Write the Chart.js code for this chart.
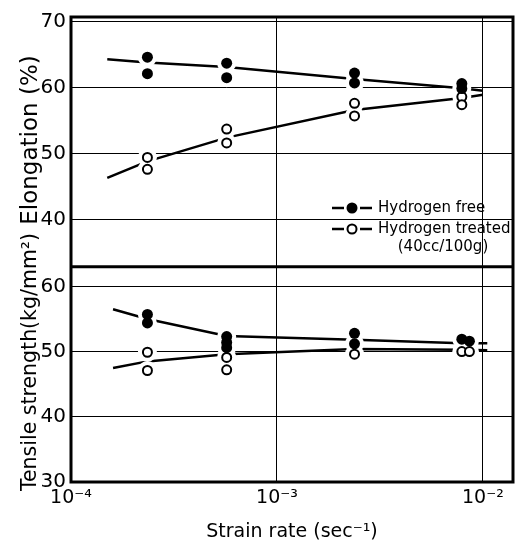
<!DOCTYPE html>
<html lang="en">

<head>
  <meta charset="UTF-8">
  <title>Strain rate</title>
  <script src="https://cdn.jsdelivr.net/npm/chart.js@4.4.1/dist/chart.umd.min.js"></script>
  <style>
    body { margin: 0; background: #fff; }
    #wrap { width: 524px; height: 547px; }
  </style>
</head>

<body>
  <div id="wrap"><canvas id="c"></canvas></div>
</body>

<script>
  // strain rates of the four test series (sec^-1)
  const rates = [2.35e-4, 5.7e-4, 2.38e-3, 7.9e-3];

  // elongation (%), two specimens per rate
  const elongFree = [[64.6, 62.1], [63.7, 61.5], [62.2, 60.7], [60.6, 59.85]];
  const elongTreated = [[49.4, 47.6], [53.7, 51.6], [57.6, 55.7], [58.6, 57.4]];

  // tensile strength (kg/mm2)
  const tensFree = [[55.7, 54.4], [52.3, 51.4, 50.6], [52.8, 51.2], [51.9, 51.6]];
  const tensTreated = [[49.9, 47.1], [49.1, 47.2], [49.6], [50.0, 50.0]];
  // last column of the tensile panel: the two specimens sit slightly apart
  const lastRates = [7.9e-3, 8.6e-3];

  // hand-drawn trend lines
  const fitX = [1.5e-4, 2.35e-4, 5.7e-4, 2.38e-3, 7.9e-3, 1.0e-2];
  const elongFreeFit = [64.3, 63.8, 63.1, 61.3, 59.9, 59.5];
  const elongTreatedFit = [46.3, 48.8, 52.4, 56.6, 58.4, 58.9];
  const tensFitX = [1.6e-4, 2.35e-4, 5.7e-4, 2.38e-3, 7.9e-3, 1.05e-2];
  const tensFreeFit = [56.5, 55.0, 52.4, 51.8, 51.3, 51.3];
  const tensTreatedFit = [47.5, 48.5, 49.6, 50.4, 50.3, 50.2];

  const xTicks = [1e-4, 1e-3, 1e-2];
  const xTickLabels = ['10\u207B\u2074', '10\u207B\u00B3', '10\u207B\u00B2'];
  const elongTicks = [40, 50, 60, 70];
  const tensTicks = [30, 40, 50, 60];

  const FONT = 'DejaVu Sans';

  function points(vals, useLast) {
    let out = [];
    vals.forEach((group, i) => {
      group.forEach((v, j) => {
        let x = (useLast && i === vals.length - 1) ? lastRates[j] : rates[i];
        out.push({ x: x, y: v });
      });
    });
    return out;
  }

  function curve(xs, ys) {
    return xs.map((x, i) => ({ x: x, y: ys[i] }));
  }

  function markers(label, data, axis, filled) {
    return {
      label: label,
      data: data,
      yAxisID: axis,
      showLine: false,
      pointRadius: filled ? 5.5 : 4.5,
      pointBackgroundColor: filled ? '#000' : '#fff',
      pointBorderColor: '#000',
      pointBorderWidth: filled ? 0 : 2,
      order: 0
    };
  }

  // white disc under each marker so the trend lines break around it
  function halo(data, axis) {
    return {
      label: '',
      data: data,
      yAxisID: axis,
      showLine: false,
      pointRadius: 9.5,
      pointBackgroundColor: '#fff',
      pointBorderColor: '#fff',
      pointBorderWidth: 0,
      order: 1
    };
  }

  function trend(data, axis) {
    return {
      label: '',
      data: data,
      yAxisID: axis,
      showLine: true,
      borderColor: '#000',
      borderWidth: 2.5,
      pointRadius: 0,
      order: 2
    };
  }

  function sideTitle(ctx, text, size, y) {
    ctx.save();
    ctx.fillStyle = '#000';
    ctx.font = size + 'px ' + FONT;
    ctx.textAlign = 'center';
    ctx.textBaseline = 'middle';
    ctx.translate(31, y);
    ctx.rotate(-Math.PI / 2);
    ctx.fillText(text, 0, 0);
    ctx.restore();
  }

  const framePlugin = {
    id: 'frame',
    afterDraw(chart) {
      const ctx = chart.ctx;
      const a = chart.chartArea;
      const top = chart.scales.yE;
      ctx.save();
      ctx.strokeStyle = '#000';
      ctx.lineWidth = 3;
      ctx.strokeRect(a.left, a.top, a.right - a.left, a.bottom - a.top);
      ctx.beginPath();
      ctx.moveTo(a.left, top.bottom);
      ctx.lineTo(a.right, top.bottom);
      ctx.stroke();
      ctx.restore();

      // rotated axis titles (the lower one sits off-centre, as in the figure)
      sideTitle(ctx, 'Elongation (%)', 23, 140);
      sideTitle(ctx, 'Tensile strength(kg/mm\u00B2)', 20.5, 362);

      // legend in the lower right of the top panel
      const free = chart.data.datasets[0];
      const treated = chart.data.datasets[1];
      ctx.save();
      ctx.strokeStyle = '#000';
      ctx.lineWidth = 2.5;
      ctx.font = '15px ' + FONT;
      ctx.fillStyle = '#000';
      ctx.textBaseline = 'middle';
      const rows = [[free, 208], [treated, 229]];
      rows.forEach(([ds, y]) => {
        ctx.beginPath();
        ctx.moveTo(332, y);
        ctx.lineTo(344, y);
        ctx.moveTo(360, y);
        ctx.lineTo(372, y);
        ctx.stroke();
        ctx.beginPath();
        ctx.arc(352, y, ds.pointRadius, 0, Math.PI * 2);
        ctx.fillStyle = ds.pointBackgroundColor;
        ctx.fill();
        if (ds.pointBorderWidth) {
          ctx.lineWidth = ds.pointBorderWidth;
          ctx.stroke();
          ctx.lineWidth = 2.5;
        }
        ctx.fillStyle = '#000';
        ctx.textAlign = 'left';
        ctx.fillText(ds.label, 378, y);
      });
      ctx.textAlign = 'center';
      ctx.fillText('(40cc/100g)', 443, 247);
      ctx.restore();
    }
  };

  const eF = points(elongFree, false);
  const eT = points(elongTreated, false);
  const tF = points(tensFree, true);
  const tT = points(tensTreated, true);

  new Chart(document.getElementById('c'), {
    type: 'scatter',
    data: {
      datasets: [
        markers('Hydrogen free', eF, 'yE', true),
        markers('Hydrogen treated', eT, 'yE', false),
        markers('Hydrogen free', tF, 'yT', true),
        markers('Hydrogen treated', tT, 'yT', false),
        halo(eF.concat(eT), 'yE'),
        halo(tF.concat(tT), 'yT'),
        trend(curve(fitX, elongFreeFit), 'yE'),
        trend(curve(fitX, elongTreatedFit), 'yE'),
        trend(curve(tensFitX, tensFreeFit), 'yT'),
        trend(curve(tensFitX, tensTreatedFit), 'yT')
      ]
    },
    options: {
      responsive: true,
      maintainAspectRatio: false,
      animation: false,
      layout: { padding: { top: 13, right: 11, left: 0, bottom: 0 } },
      plugins: {
        legend: { display: false },
        tooltip: { enabled: false }
      },
      scales: {
        x: {
          type: 'logarithmic',
          min: 1e-4,
          max: 0.014,
          afterBuildTicks: (s) => { s.ticks = xTicks.map(v => ({ value: v })); },
          afterFit: (s) => { s.height = 65; },
          grid: { color: '#000', lineWidth: 1, drawTicks: false },
          border: { display: false },
          ticks: {
            color: '#000',
            padding: 5,
            maxRotation: 0,
            font: { family: FONT, size: 19 },
            callback: (v) => xTickLabels[xTicks.indexOf(v)]
          },
          title: {
            display: true,
            text: 'Strain rate (sec\u207B\u00B9)',
            color: '#000',
            font: { family: FONT, size: 19 },
            padding: { top: 0, bottom: 4 }
          }
        },
        // in a stack the axis defined last is drawn on top
        yT: {
          type: 'linear',
          position: 'left',
          stack: 'panels',
          stackWeight: 217,
          min: 30,
          max: 63,
          afterBuildTicks: (s) => { s.ticks = tensTicks.map(v => ({ value: v })); },
          afterFit: (s) => { s.width = 71; },
          grid: { color: '#000', lineWidth: 1, drawTicks: false },
          border: { display: false },
          ticks: { color: '#000', padding: 5, font: { family: FONT, size: 20 } }
        },
        yE: {
          type: 'linear',
          position: 'left',
          stack: 'panels',
          stackWeight: 252,
          min: 32.8,
          max: 70.7,
          afterBuildTicks: (s) => { s.ticks = elongTicks.map(v => ({ value: v })); },
          afterFit: (s) => { s.width = 71; },
          grid: { color: '#000', lineWidth: 1, drawTicks: false },
          border: { display: false },
          ticks: { color: '#000', padding: 5, font: { family: FONT, size: 20 } }
        }
      }
    },
    plugins: [framePlugin]
  });
</script>

</html>
